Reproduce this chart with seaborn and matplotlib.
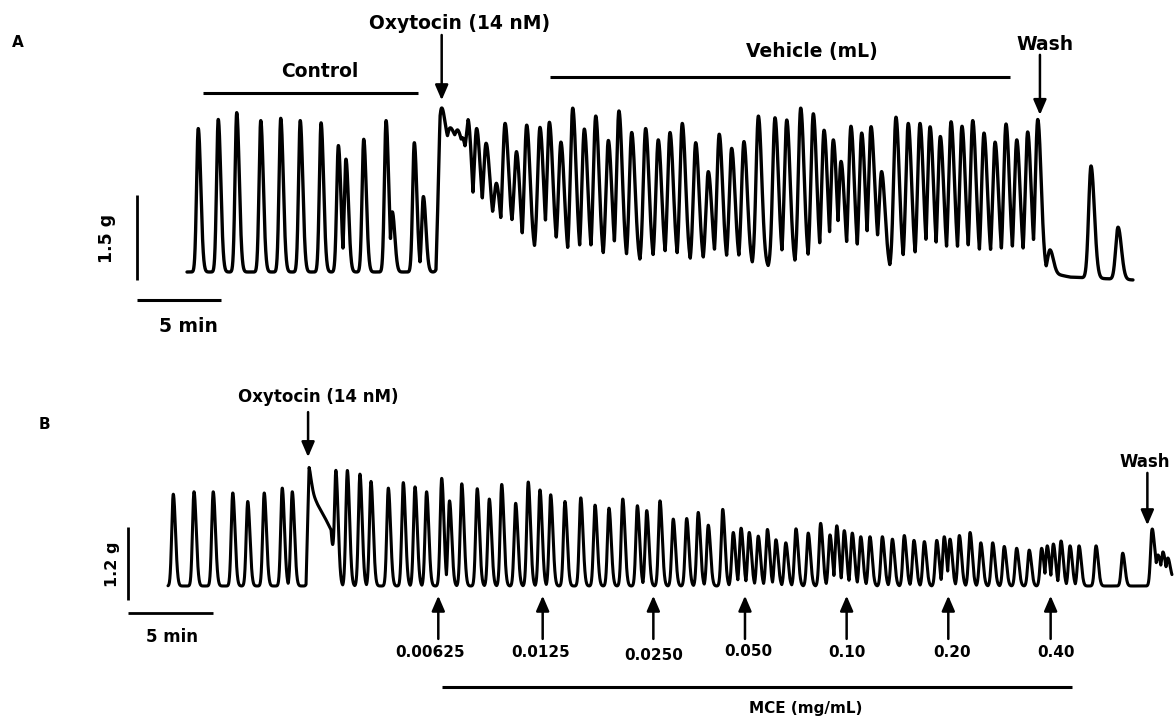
import numpy as np
import pandas as pd
import matplotlib
matplotlib.use("Agg")
import matplotlib.pyplot as plt
import seaborn as sns

# ---------------- Panel A : control -> oxytocin -> vehicle -> wash ----------------
a_peak_t = [0.67, 1.86, 2.96, 4.39, 5.58, 6.74, 7.98, 9.01, 9.46, 10.52, 11.85, 12.22, 13.53, 14.07,
            15.15, 15.65, 16.13, 16.43,
            16.80, 17.24, 17.80, 18.43, 18.93, 19.62, 20.22, 21.01, 21.57, 22.26, 22.96, 23.65, 24.33,
            25.08, 25.71, 26.47, 27.30, 28.05, 28.75, 29.48, 30.28, 31.03, 31.68, 32.42, 33.15, 34.01,
            35.00, 35.70, 36.53, 37.28, 37.92, 38.47, 38.93, 39.52, 40.16, 40.71, 41.35, 42.20, 42.93,
            43.63, 44.23, 44.84, 45.48, 46.13, 46.77, 47.44, 48.10, 48.75, 49.39, 50.04, 50.64,
            51.37, 53.81, 55.42]
a_peak_g = [2.53, 2.69, 2.81, 2.67, 2.71, 2.67, 2.63, 2.23, 1.99, 2.34, 2.67, 1.06, 2.28, 1.33,
            2.89, 2.54, 2.50, 2.36,
            2.56, 2.53, 2.27, 1.56, 2.62, 2.12, 2.59, 2.55, 2.64, 2.29, 2.89, 2.52, 2.75,
            2.32, 2.84, 2.46, 2.53, 2.33, 2.46, 2.62, 2.28, 1.77, 2.43, 2.18, 2.30, 2.75,
            2.72, 2.68, 2.89, 2.79, 2.50, 2.33, 1.95, 2.57, 2.45, 2.56, 1.77, 2.73, 2.62,
            2.62, 2.56, 2.39, 2.65, 2.57, 2.67, 2.45, 2.29, 2.61, 2.33, 2.47, 2.69,
            0.39, 1.87, 0.79]
# basal (tonic) tension of panel A
a_tone_t = [0.00, 14.82, 15.06, 15.42, 15.95, 16.43, 16.73, 17.02, 17.56, 18.04, 18.69, 19.35, 19.94,
            21.96, 22.62, 25.77, 36.49, 40.60, 41.05, 41.85, 50.77, 51.13, 52.56, 56.31]
a_tone_g = [0.00, 0.00, 2.15, 2.24, 2.33, 2.15, 1.89, 0.92, 0.92, 0.97, 0.56, 0.69, 0.30,
            0.34, 0.16, 0.11, 0.07, 0.07, 0.33, 0.04, 0.04, 0.00, -0.09, -0.14]
a_oxytocin_t = 15.16
a_wash_t = 50.77
a_control_span = (0.93, 13.75)
a_vehicle_span = (21.61, 48.99)

# ---------------- Panel B : oxytocin -> cumulative MCE -> wash ----------------
b_peak_t = [0.31, 1.53, 2.66, 3.81, 4.69, 5.66, 6.72, 7.31,
            8.31,
            9.88, 10.55, 11.29, 11.94, 12.96, 13.84, 14.53, 15.21, 16.10, 16.56, 17.28, 18.19, 18.90,
            19.63, 20.45, 21.19, 21.88, 22.51, 23.35, 24.28, 25.12, 25.94, 26.75, 27.61, 28.16, 28.94,
            29.72, 30.51, 31.19, 31.78, 32.63, 33.25, 33.71, 34.19, 34.72, 35.26, 35.76, 36.34, 36.94,
            37.66, 38.39, 38.94, 39.34, 39.78, 40.25, 40.75, 41.29, 42.02, 42.61, 43.31, 43.88, 44.49,
            45.22, 45.66, 46.00, 46.55, 47.18, 47.81, 48.51, 49.19, 49.92, 50.66, 51.39, 51.72, 52.08,
            52.53, 53.06, 53.59, 54.59, 56.16,
            57.88, 58.24, 58.53, 58.82]
b_peak_g = [1.51, 1.55, 1.55, 1.53, 1.39, 1.53, 1.61, 1.55,
            1.94,
            1.90, 1.90, 1.84, 1.72, 1.61, 1.70, 1.63, 1.55, 1.77, 1.40, 1.68, 1.60, 1.43,
            1.67, 1.36, 1.71, 1.58, 1.50, 1.39, 1.45, 1.33, 1.28, 1.43, 1.32, 1.24, 1.40,
            1.10, 1.11, 1.21, 1.00, 1.26, 0.88, 0.95, 0.88, 0.82, 0.93, 0.76, 0.71, 0.94,
            0.87, 1.03, 0.84, 0.99, 0.91, 0.87, 0.81, 0.81, 0.81, 0.77, 0.83, 0.75, 0.73,
            0.75, 0.81, 0.77, 0.83, 0.88, 0.71, 0.71, 0.65, 0.62, 0.59, 0.62, 0.66, 0.69,
            0.74, 0.66, 0.66, 0.66, 0.54,
            0.93, 0.51, 0.56, 0.46]
b_tone_t = [0.00, 8.12, 8.30, 8.41, 8.82, 9.24, 9.59, 9.76, 9.94, 57.76, 58.06, 59.06]
b_tone_g = [0.00, 0.00, 1.70, 1.58, 1.33, 1.12, 0.92, 0.18, 0.00, 0.00, 0.26, 0.13]
b_oxytocin_t = 8.24
b_wash_t = 57.61
mce_dose_t = [15.90, 22.04, 28.55, 33.94, 39.92, 45.90, 51.92]
mce_dose_lbl = ["0.00625", "0.0125", "0.0250", "0.050", "0.10", "0.20", "0.40"]
mce_span = (16.10, 53.16)


def build_trace(peak_t, peak_g, tone_t, tone_g, rise, fall, step=0.004):
    t = np.arange(tone_t[0], tone_t[-1], step)
    tone = np.interp(t, tone_t, tone_g)
    pk_t = np.asarray(peak_t)
    amp = np.asarray(peak_g) - np.interp(pk_t, tone_t, tone_g)
    d = t[None, :] - pk_t[:, None]
    sig = np.where(d < 0, np.asarray(rise)[:, None], np.asarray(fall)[:, None])
    pulses = np.exp(-0.5 * (d / sig) ** 2) * amp[:, None]
    y = tone + np.clip(pulses.max(axis=0), 0, None)
    return pd.DataFrame({"time": t, "tension": y})


# pulse widths (drawing style): control spikes narrow, oxytocin-driven waves broader
pa = np.asarray(a_peak_t)
a_rise = np.where(pa < 14.5, 0.10, 0.14)
a_fall = np.where(pa < 14.5, 0.15, 0.20)
pb = np.asarray(b_peak_t)
b_rise = np.full(pb.shape, 0.09)
b_fall = np.full(pb.shape, 0.13)

df_a = build_trace(a_peak_t, a_peak_g, a_tone_t, a_tone_g, a_rise, a_fall)
df_b = build_trace(b_peak_t, b_peak_g, b_tone_t, b_tone_g, b_rise, b_fall)

sns.set_theme(style="white")
plt.rcParams["font.family"] = ["DejaVu Sans"]
plt.rcParams["font.weight"] = "bold"
plt.rcParams["text.color"] = "black"

W, H = 1174, 721
fig = plt.figure(figsize=(W / 100, H / 100), dpi=100)
fig.patch.set_facecolor("white")

ax_a = fig.add_axes([0, 0, 1, 1], label="A")
ax_b = fig.add_axes([0, 0, 1, 1], label="B")
for ax in (ax_a, ax_b):
    ax.set_axis_off()
    ax.patch.set_alpha(0)

# panel A scale: 16.8 px/min, 56.7 px/g ; panel B: 17 px/min, 60.8 px/g
ax_a.set_xlim(-187 / 16.8, (W - 187) / 16.8)
ax_a.set_ylim((272 - H) / 56.7, 272 / 56.7)
ax_b.set_xlim(-168 / 17.0, (W - 168) / 17.0)
ax_b.set_ylim((586 - H) / 60.8, 586 / 60.8)

lw_trace = 2.4
sns.lineplot(data=df_a, x="time", y="tension", ax=ax_a, color="black", lw=lw_trace,
             estimator=None, sort=False, legend=False)
sns.lineplot(data=df_b, x="time", y="tension", ax=ax_b, color="black", lw=2.2,
             estimator=None, sort=False, legend=False)
for ax in (ax_a, ax_b):
    ax.set_axis_off()
    ax.set_xlabel("")
    ax.set_ylabel("")

arrow_kw = dict(arrowstyle="-|>,head_length=0.65,head_width=0.28", color="black", lw=1.8,
                shrinkA=0, shrinkB=0, mutation_scale=14)
fs_a = 13.5
fs_b = 12
tk = dict(fontweight="bold", ha="center", va="center", color="black")

# ---- Panel A annotations ----
ax_a.text(-10.06, 4.04, "A", fontsize=11, **tk)
ax_a.plot(list(a_control_span), [3.16, 3.16], color="black", lw=2.2, solid_capstyle="butt")
ax_a.text(7.92, 3.53, "Control", fontsize=fs_a, **tk)
ax_a.plot(list(a_vehicle_span), [3.44, 3.44], color="black", lw=2.2, solid_capstyle="butt")
ax_a.text(37.18, 3.89, "Vehicle (mL)", fontsize=fs_a, **tk)
ax_a.text(16.25, 4.39, "Oxytocin (14 nM)", fontsize=fs_a, **tk)
ax_a.annotate("", xy=(a_oxytocin_t, 3.03), xytext=(a_oxytocin_t, 4.18), arrowprops=arrow_kw)
ax_a.text(51.07, 4.02, "Wash", fontsize=fs_a, **tk)
ax_a.annotate("", xy=(a_wash_t, 2.77), xytext=(a_wash_t, 3.83), arrowprops=arrow_kw)
# scale bars
ax_a.plot([-2.95, -2.95], [-0.14, 1.36], color="black", lw=2.0, solid_capstyle="butt")
ax_a.text(-4.76, 0.60, "1.5 g", fontsize=12.5, rotation=90, **tk)
ax_a.plot([-2.95, 2.05], [-0.49, -0.49], color="black", lw=2.2, solid_capstyle="butt")
ax_a.text(0.06, -0.97, "5 min", fontsize=13.5, **tk)

# ---- Panel B annotations ----
ax_b.text(-7.24, 2.65, "B", fontsize=11, **tk)
ax_b.text(8.82, 3.11, "Oxytocin (14 nM)", fontsize=fs_b, **tk)
ax_b.annotate("", xy=(b_oxytocin_t, 2.12), xytext=(b_oxytocin_t, 2.86), arrowprops=arrow_kw)
ax_b.text(57.47, 2.04, "Wash", fontsize=fs_b, **tk)
ax_b.annotate("", xy=(b_wash_t, 1.00), xytext=(b_wash_t, 1.86), arrowprops=arrow_kw)
lbl_shift = [-0.5, -0.15, 0.0, 0.18, 0.0, 0.2, 0.3]
lbl_y = [-1.10, -1.10, -1.15, -1.07, -1.09, -1.09, -1.09]
for t, lbl, dx, ly in zip(mce_dose_t, mce_dose_lbl, lbl_shift, lbl_y):
    ax_b.annotate("", xy=(t, -0.16), xytext=(t, -0.87), arrowprops=arrow_kw)
    ax_b.text(t + dx, ly, lbl, fontsize=11, **tk)
ax_b.plot(list(mce_span), [-1.66, -1.66], color="black", lw=2.2, solid_capstyle="butt")
ax_b.text(37.53, -2.02, "MCE (mg/mL)", fontsize=11, **tk)
# scale bars
ax_b.plot([-2.35, -2.35], [-0.23, 0.97], color="black", lw=2.0, solid_capstyle="butt")
ax_b.text(-3.29, 0.35, "1.2 g", fontsize=11.5, rotation=90, **tk)
ax_b.plot([-2.35, 2.65], [-0.44, -0.44], color="black", lw=2.0, solid_capstyle="butt")
ax_b.text(0.24, -0.84, "5 min", fontsize=12, **tk)

fig.savefig("out.png", dpi=100, facecolor="white")
